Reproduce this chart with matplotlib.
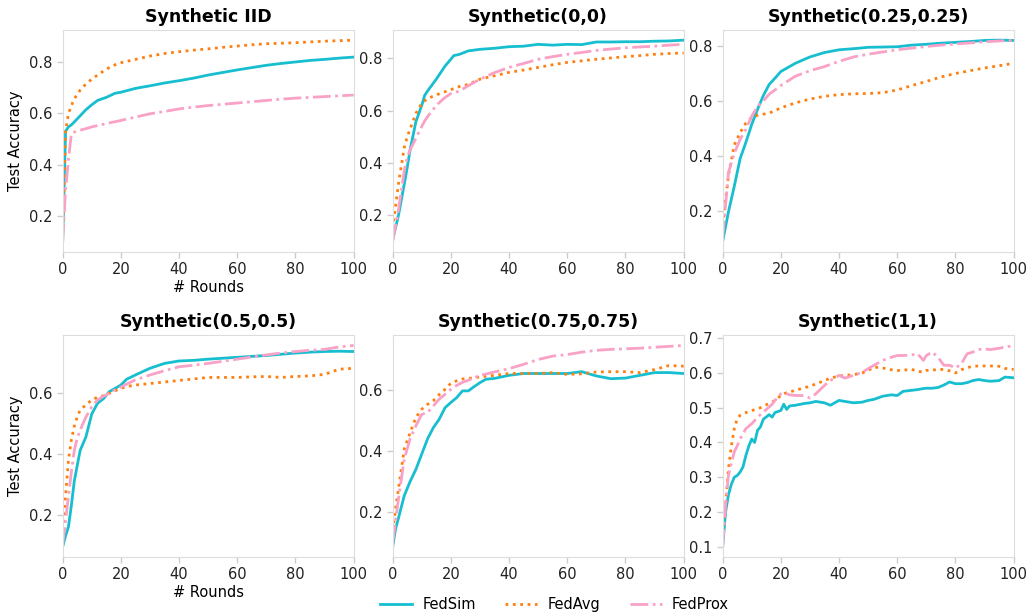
import numpy as np
import matplotlib.pyplot as plt

# colours / styles of the three methods
methods = ["FedSim", "FedAvg", "FedProx"]
colors = ["#17becf", "#ff7f0e", "#f9a1c6"]
styles = ["-", ":", "-."]

titles = ["Synthetic IID", "Synthetic(0,0)", "Synthetic(0.25,0.25)",
          "Synthetic(0.5,0.5)", "Synthetic(0.75,0.75)", "Synthetic(1,1)"]

# --- Synthetic IID ---
rounds_iid = [0, 1, 2, 3, 4, 6, 8, 10, 12, 15, 18, 20, 25, 30, 35, 40, 45, 50,
              55, 60, 65, 70, 75, 80, 85, 90, 95, 100]
fedsim_iid = [0.10, 0.53, 0.547, 0.555, 0.566, 0.59, 0.614, 0.633, 0.65, 0.662, 0.678,
              0.682, 0.697, 0.707, 0.718, 0.727, 0.737, 0.749, 0.759, 0.769, 0.778,
              0.787, 0.794, 0.80, 0.806, 0.81, 0.815, 0.819]
fedavg_iid = [0.12, 0.53, 0.598, 0.63, 0.656, 0.69, 0.714, 0.733, 0.749, 0.772, 0.789,
              0.797, 0.81, 0.823, 0.833, 0.84, 0.846, 0.851, 0.857, 0.862, 0.867,
              0.871, 0.873, 0.875, 0.878, 0.881, 0.883, 0.885]
fedprox_iid = [0.10, 0.30, 0.42, 0.52, 0.527, 0.534, 0.54, 0.547, 0.552, 0.56, 0.567,
               0.572, 0.585, 0.598, 0.607, 0.617, 0.624, 0.63, 0.635, 0.64, 0.645,
               0.65, 0.655, 0.659, 0.662, 0.665, 0.668, 0.671]

# --- Synthetic(0,0) ---
rounds_00 = [0, 2, 4, 5, 6, 8, 10, 11, 12, 15, 18, 20, 21, 23, 26, 30, 35, 40, 45,
             50, 55, 60, 65, 70, 75, 80, 85, 90, 95, 100]
fedsim_00 = [0.106, 0.20, 0.32, 0.382, 0.45, 0.558, 0.62, 0.658, 0.675, 0.72, 0.77,
             0.796, 0.81, 0.815, 0.828, 0.834, 0.838, 0.844, 0.846, 0.853, 0.85,
             0.853, 0.852, 0.862, 0.862, 0.863, 0.863, 0.865, 0.866, 0.869]
fedavg_00 = [0.15, 0.32, 0.46, 0.50, 0.53, 0.59, 0.627, 0.637, 0.646, 0.66, 0.672,
             0.68, 0.684, 0.692, 0.70, 0.72, 0.733, 0.746, 0.755, 0.765, 0.775,
             0.784, 0.79, 0.796, 0.801, 0.806, 0.81, 0.815, 0.818, 0.82]
fedprox_00 = [0.10, 0.22, 0.37, 0.42, 0.45, 0.495, 0.54, 0.56, 0.577, 0.62, 0.65,
              0.665, 0.668, 0.675, 0.695, 0.72, 0.745, 0.765, 0.78, 0.796, 0.806,
              0.815, 0.822, 0.83, 0.835, 0.84, 0.843, 0.846, 0.85, 0.853]

# --- Synthetic(0.25,0.25) ---
rounds_25 = [0, 2, 4, 6, 8, 10, 12, 14, 16, 18, 20, 25, 30, 35, 40, 45, 50, 55, 60,
             65, 70, 75, 80, 85, 90, 95, 100]
fedsim_25 = [0.089, 0.197, 0.29, 0.39, 0.45, 0.515, 0.57, 0.62, 0.66, 0.683, 0.707,
             0.737, 0.76, 0.776, 0.786, 0.79, 0.795, 0.796, 0.797, 0.803, 0.806,
             0.81, 0.813, 0.816, 0.82, 0.821, 0.82]
fedavg_25 = [0.15, 0.33, 0.44, 0.485, 0.52, 0.54, 0.548, 0.552, 0.556, 0.565, 0.575,
             0.593, 0.607, 0.617, 0.623, 0.626, 0.627, 0.63, 0.64, 0.656, 0.671,
             0.687, 0.70, 0.71, 0.72, 0.728, 0.737]
fedprox_25 = [0.10, 0.34, 0.41, 0.46, 0.497, 0.545, 0.58, 0.60, 0.625, 0.64, 0.656,
              0.69, 0.71, 0.725, 0.744, 0.76, 0.77, 0.778, 0.786, 0.792, 0.798,
              0.803, 0.807, 0.811, 0.815, 0.818, 0.82]

# --- Synthetic(0.5,0.5) ---
rounds_50 = [0, 1, 2, 3, 4, 5, 6, 8, 10, 12, 14, 16, 18, 20, 22, 25, 30, 35, 40, 45,
             50, 55, 60, 65, 70, 75, 80, 85, 90, 95, 100]
fedsim_50 = [0.094, 0.13, 0.16, 0.23, 0.31, 0.36, 0.41, 0.455, 0.53, 0.565, 0.58,
             0.603, 0.614, 0.625, 0.644, 0.658, 0.68, 0.696, 0.704, 0.706, 0.71,
             0.713, 0.716, 0.719, 0.722, 0.726, 0.73, 0.733, 0.735, 0.736, 0.735]
fedavg_50 = [0.15, 0.26, 0.38, 0.445, 0.49, 0.52, 0.543, 0.56, 0.576, 0.585, 0.59,
             0.598, 0.606, 0.614, 0.62, 0.625, 0.63, 0.635, 0.64, 0.645, 0.65, 0.65,
             0.65, 0.652, 0.653, 0.65, 0.653, 0.655, 0.66, 0.677, 0.68]
fedprox_50 = [0.10, 0.18, 0.26, 0.34, 0.41, 0.45, 0.477, 0.52, 0.554, 0.576, 0.588,
              0.598, 0.609, 0.618, 0.628, 0.642, 0.658, 0.672, 0.685, 0.69, 0.696,
              0.703, 0.71, 0.717, 0.724, 0.73, 0.735, 0.739, 0.742, 0.75, 0.755]

# --- Synthetic(0.75,0.75) ---
rounds_75 = [0, 1, 2, 4, 6, 8, 10, 12, 14, 16, 18, 20, 22, 24, 26, 28, 30, 32, 35,
             40, 45, 50, 55, 60, 65, 70, 75, 80, 85, 90, 95, 100]
fedsim_75 = [0.086, 0.145, 0.18, 0.254, 0.30, 0.34, 0.39, 0.44, 0.477, 0.504, 0.542,
             0.559, 0.575, 0.597, 0.597, 0.611, 0.624, 0.635, 0.638, 0.648, 0.654,
             0.654, 0.654, 0.654, 0.66, 0.646, 0.637, 0.639, 0.648, 0.657, 0.657, 0.654]
fedavg_75 = [0.14, 0.21, 0.276, 0.407, 0.46, 0.51, 0.537, 0.553, 0.565, 0.585, 0.602,
             0.622, 0.63, 0.636, 0.638, 0.64, 0.643, 0.645, 0.648, 0.654, 0.654,
             0.654, 0.657, 0.651, 0.653, 0.659, 0.66, 0.66, 0.657, 0.667, 0.68, 0.678]
fedprox_75 = [0.10, 0.17, 0.243, 0.374, 0.44, 0.483, 0.52, 0.526, 0.548, 0.57, 0.586,
              0.602, 0.615, 0.625, 0.632, 0.64, 0.648, 0.652, 0.659, 0.67, 0.684,
              0.70, 0.711, 0.716, 0.724, 0.73, 0.733, 0.735, 0.737, 0.74, 0.743, 0.746]

# --- Synthetic(1,1) ---
rounds_11 = [0, 1, 2, 3, 4, 5, 6, 7, 8, 9, 10, 11, 12, 13, 14, 16, 17, 18, 20, 21,
             22, 23, 25, 28, 30, 32, 35, 37, 40, 42, 45, 48, 50, 52, 55, 58, 60, 62,
             65, 67, 69, 70, 72, 74, 76, 78, 80, 82, 84, 86, 88, 90, 92, 95, 97, 100]
fedsim_11 = [0.10, 0.20, 0.25, 0.28, 0.30, 0.305, 0.315, 0.33, 0.363, 0.39, 0.41,
             0.40, 0.435, 0.445, 0.467, 0.48, 0.473, 0.486, 0.492, 0.51, 0.495, 0.505,
             0.507, 0.512, 0.514, 0.518, 0.514, 0.507, 0.521, 0.518, 0.514, 0.516,
             0.521, 0.524, 0.533, 0.537, 0.535, 0.547, 0.55, 0.552, 0.555, 0.556,
             0.556, 0.558, 0.565, 0.574, 0.569, 0.569, 0.572, 0.578, 0.581, 0.578,
             0.576, 0.578, 0.588, 0.586]
fedavg_11 = [0.14, 0.22, 0.325, 0.39, 0.44, 0.468, 0.478, 0.482, 0.486, 0.489, 0.492,
             0.494, 0.497, 0.50, 0.505, 0.512, 0.516, 0.521, 0.535, 0.54, 0.543,
             0.545, 0.55, 0.557, 0.562, 0.568, 0.578, 0.585, 0.591, 0.593, 0.595,
             0.60, 0.607, 0.617, 0.614, 0.609, 0.607, 0.608, 0.61, 0.605, 0.602,
             0.607, 0.608, 0.61, 0.61, 0.606, 0.60, 0.609, 0.615, 0.619, 0.62, 0.62,
             0.62, 0.619, 0.613, 0.61]
fedprox_11 = [0.10, 0.22, 0.306, 0.34, 0.373, 0.39, 0.41, 0.425, 0.44, 0.447, 0.454,
              0.463, 0.473, 0.48, 0.488, 0.502, 0.51, 0.521, 0.54, 0.542, 0.54, 0.537,
              0.535, 0.535, 0.528, 0.54, 0.564, 0.578, 0.593, 0.585, 0.593, 0.602,
              0.612, 0.622, 0.636, 0.645, 0.65, 0.65, 0.652, 0.655, 0.636, 0.65,
              0.66, 0.645, 0.622, 0.622, 0.614, 0.626, 0.655, 0.66, 0.667, 0.669,
              0.667, 0.671, 0.674, 0.679]

panels = [
    (rounds_iid, [fedsim_iid, fedavg_iid, fedprox_iid]),
    (rounds_00, [fedsim_00, fedavg_00, fedprox_00]),
    (rounds_25, [fedsim_25, fedavg_25, fedprox_25]),
    (rounds_50, [fedsim_50, fedavg_50, fedprox_50]),
    (rounds_75, [fedsim_75, fedavg_75, fedprox_75]),
    (rounds_11, [fedsim_11, fedavg_11, fedprox_11]),
]

fig, axes = plt.subplots(2, 3, figsize=(10.27, 6.14), dpi=100)
fig.subplots_adjust(left=0.061, right=0.987, top=0.951, bottom=0.093,
                    wspace=0.134, hspace=0.378)

for i, ax in enumerate(axes.flat):
    rounds, series = panels[i]
    for name, vals, c, ls in zip(methods, series, colors, styles):
        ax.plot(rounds, vals, color=c, linestyle=ls, linewidth=2, label=name)
    ax.set_xlim(0, 100)
    ax.set_xticks([0, 20, 40, 60, 80, 100])
    ax.set_title(titles[i], fontsize=12.5, fontweight='bold')
    for s in ax.spines.values():
        s.set_color('#dddddd')
    ax.tick_params(colors='#cccccc', labelcolor='#222222', labelsize=10.5,
                   length=4, width=1)
    if i % 3 == 0:
        ax.set_ylabel("Test Accuracy", fontsize=10.5)
        ax.set_xlabel("# Rounds", fontsize=10.5, labelpad=2)

handles, labels = axes[0, 0].get_legend_handles_labels()
fig.legend(handles, labels, loc='center', ncol=3, frameon=False,
           bbox_to_anchor=(0.54, 0.016), fontsize=10.5, handlelength=2.2,
           handletextpad=0.7, columnspacing=2.0)

plt.savefig("out.png", dpi=100)
